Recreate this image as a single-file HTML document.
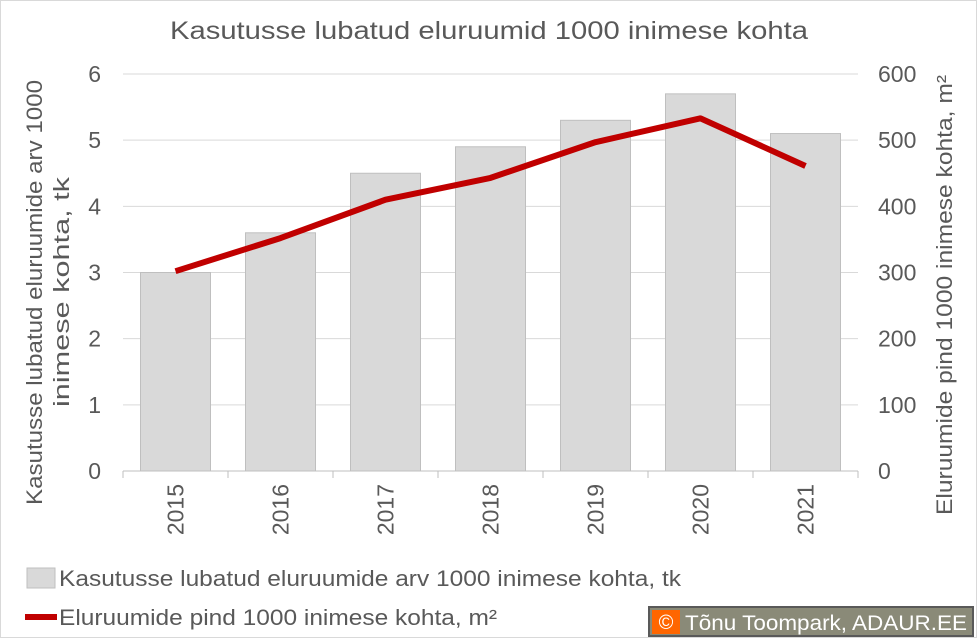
<!DOCTYPE html>
<html><head><meta charset="utf-8"><style>
body{margin:0;background:#fff;width:977px;height:638px;overflow:hidden;font-family:"Liberation Sans",sans-serif}
svg text{font-family:"Liberation Sans",sans-serif}
</style></head><body>
<svg id="c" width="977" height="638">
<rect x="0.5" y="0.5" width="976" height="637" fill="#fff" stroke="#d9d9d9"/>
<text x="170" y="39" font-size="25" fill="#595959" textLength="638" lengthAdjust="spacingAndGlyphs">Kasutusse lubatud eluruumid 1000 inimese kohta</text>
<g id="grid"></g><g id="bars"></g><g id="line"></g><g id="axes"></g>
<text transform="translate(42,505) rotate(-90)" font-size="22" fill="#595959"><tspan x="0" dy="0" textLength="425" lengthAdjust="spacingAndGlyphs">Kasutusse lubatud eluruumide arv 1000</tspan><tspan x="98" dy="27" textLength="230" lengthAdjust="spacingAndGlyphs">inimese kohta, tk</tspan></text>
<text transform="translate(952,515) rotate(-90)" font-size="22" fill="#595959" textLength="440" lengthAdjust="spacingAndGlyphs">Eluruumide pind 1000 inimese kohta, m²</text>
<rect x="27" y="568" width="28" height="20" fill="#d9d9d9" stroke="#bfbfbf"/>
<text x="59" y="586" font-size="22" fill="#595959" textLength="622" lengthAdjust="spacingAndGlyphs">Kasutusse lubatud eluruumide arv 1000 inimese kohta, tk</text>
<line x1="25" y1="617" x2="57" y2="617" stroke="#c00000" stroke-width="6"/>
<text x="59" y="625" font-size="22" fill="#595959" textLength="438" lengthAdjust="spacingAndGlyphs">Eluruumide pind 1000 inimese kohta, m²</text>
<g>
<rect x="649" y="607" width="324" height="29" fill="#8a8a78" stroke="#595959" stroke-width="2"/>
<rect x="652" y="610" width="28" height="24" fill="#ff6600"/>
<text x="666" y="629" text-anchor="middle" font-size="20" fill="#fff">©</text>
<text x="685" y="630" font-size="21" fill="#fff" textLength="282" lengthAdjust="spacingAndGlyphs">Tõnu Toompark, ADAUR.EE</text>
</g>
</svg>
<script>
const years=["2015","2016","2017","2018","2019","2020","2021"];
const units=[3,3.6,4.5,4.9,5.3,5.7,5.1];
const area=[302,352,410,443,497,533,461];
const leftTicks=[0,1,2,3,4,5,6];
const rightTicks=[0,100,200,300,400,500,600];
const NS="http://www.w3.org/2000/svg";
const X0=123,X1=858,Y0=471,Y1=74;
const bw=(X1-X0)/years.length;
const yL=v=>Y0-(v/6)*(Y0-Y1);
const yR=v=>Y0-(v/600)*(Y0-Y1);
const xC=i=>X0+bw*(i+0.5);
function mk(tag,attrs,parent){const e=document.createElementNS(NS,tag);for(const k in attrs)e.setAttribute(k,attrs[k]);document.getElementById(parent).appendChild(e);return e;}
leftTicks.forEach((t,i)=>{
 if(t>0){const g=mk('line',{x1:X0,x2:X1,y1:yL(t),y2:yL(t),stroke:'#d9d9d9'},'grid');
 
 }
 const l=mk('text',{x:101,y:yL(t)+8,'text-anchor':'end','font-size':23,fill:'#595959'},'axes');l.textContent=t;
 
 
});
rightTicks.forEach(t=>{
 const l=mk('text',{x:878,y:yR(t)+8,'font-size':23,fill:'#595959'},'axes');l.textContent=t;
 
 
});
const ax=mk('line',{x1:X0,x2:X1,y1:Y0,y2:Y0,stroke:'#bfbfbf'},'axes');


for(let i=0;i<=years.length;i++){const tk=mk('line',{x1:X0+bw*i,x2:X0+bw*i,y1:Y0,y2:Y0+7,stroke:'#bfbfbf'},'axes');
 
 }
years.forEach((y,i)=>{
 const b=mk('rect',{x:xC(i)-35,y:yL(units[i]),width:70,height:Y0-yL(units[i]),fill:'#d9d9d9',stroke:'#bfbfbf'},'bars');
 
 
 const t=mk('text',{transform:`translate(${xC(i)+8},${484}) rotate(-90)`,'text-anchor':'end','font-size':23,fill:'#595959'},'axes');t.textContent=y;
 
 
});
const p=mk('polyline',{points:area.map((v,i)=>xC(i)+','+yR(v)).join(' '),fill:'none',stroke:'#c00000','stroke-width':6,'stroke-linejoin':'round'},'line');


</script>
</body></html>
